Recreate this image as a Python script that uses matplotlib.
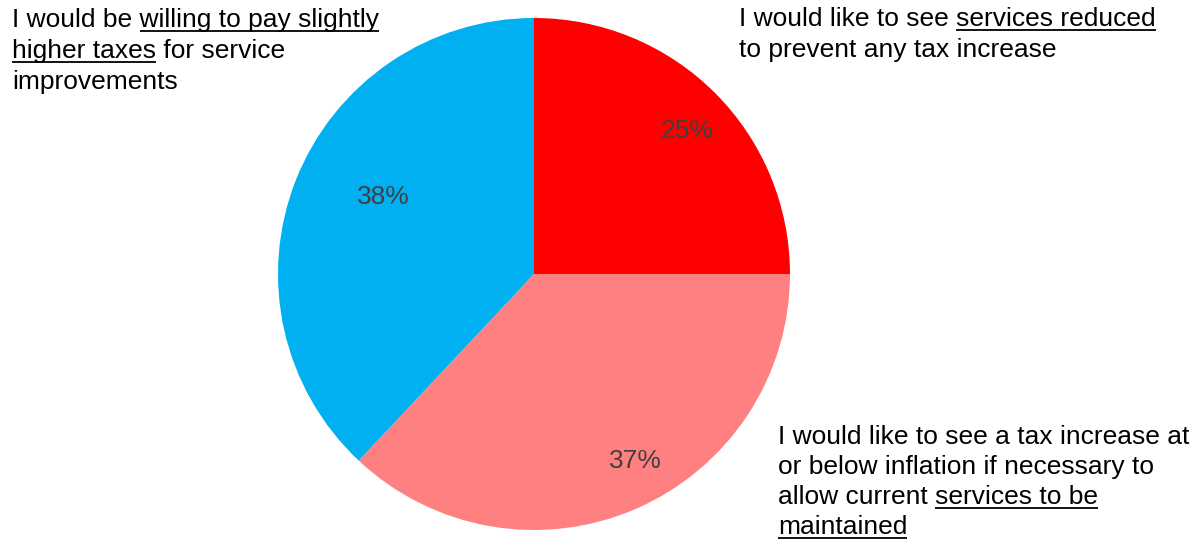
import numpy as np
import matplotlib.pyplot as plt

# data
shares = [25, 37, 38]
colors = ["#FF0000", "#FF8080", "#00B0F0"]
pct_labels = ["25%", "37%", "38%"]

# label text, one list per line, segments as (text, underlined)
label_left = [
    [("I would be ", False), ("willing to pay slightly", True)],
    [("higher taxes", True), (" for service", False)],
    [("improvements", False)],
]
label_top = [
    [("I would like to see ", False), ("services reduced", True)],
    [("to prevent any tax increase", False)],
]
label_bottom = [
    [("I would like to see a tax increase at", False)],
    [("or below inflation if necessary to", False)],
    [("allow current ", False), ("services to be", True)],
    [("maintained", True)],
]

W, H = 1196, 542
plt.rcParams['font.family'] = ['Liberation Sans', 'DejaVu Sans']
FS = 19

fig = plt.figure(figsize=(W / 100, H / 100), dpi=100)
ax = fig.add_axes([0, 0, 1, 1])

cx, cy, r = 534, H - 274, 256
wedges, _ = ax.pie(shares, colors=colors, startangle=90, counterclock=False,
                   center=(cx, cy), radius=r, frame=True,
                   wedgeprops=dict(linewidth=0))
ax.set_xlim(0, W)
ax.set_ylim(0, H)
ax.axis("off")
ax.set_aspect("auto")

# percentage labels: radial distance and small angle shift per wedge
label_dist = [0.82, 0.83, 0.66]
label_shift = [-2, 5, -5.6]
for w, txt, d, s in zip(wedges, pct_labels, label_dist, label_shift):
    ang = np.deg2rad((w.theta1 + w.theta2) / 2 + s)
    ax.text(cx + r * d * np.cos(ang), cy + r * d * np.sin(ang), txt,
            ha="center", va="center", fontsize=FS, color="#404040")

renderer = fig.canvas.get_renderer()


def text_width(s):
    t = ax.text(0, 0, s + "|", fontsize=FS)
    w1 = t.get_window_extent(renderer).width
    t.remove()
    t = ax.text(0, 0, "|", fontsize=FS)
    w2 = t.get_window_extent(renderer).width
    t.remove()
    return w1 - w2


def draw_label(lines, x, y0, step):
    for i, segs in enumerate(lines):
        y = H - (y0 + i * step)
        full = "".join(s for s, _ in segs)
        ax.text(x, y, full, fontsize=FS, ha="left", va="baseline", color="black")
        pos = ""
        for s, under in segs:
            if under:
                x1 = x + text_width(pos)
                x2 = x + text_width(pos + s)
                ax.plot([x1, x2], [y - 3.8, y - 3.8], color="black", lw=1.3,
                        solid_capstyle="butt")
            pos += s


draw_label(label_left, 12, 27, 31.2)
draw_label(label_top, 739, 26, 31.2)
draw_label(label_bottom, 778, 443.5, 30.2)

fig.savefig("out.png", dpi=100)
